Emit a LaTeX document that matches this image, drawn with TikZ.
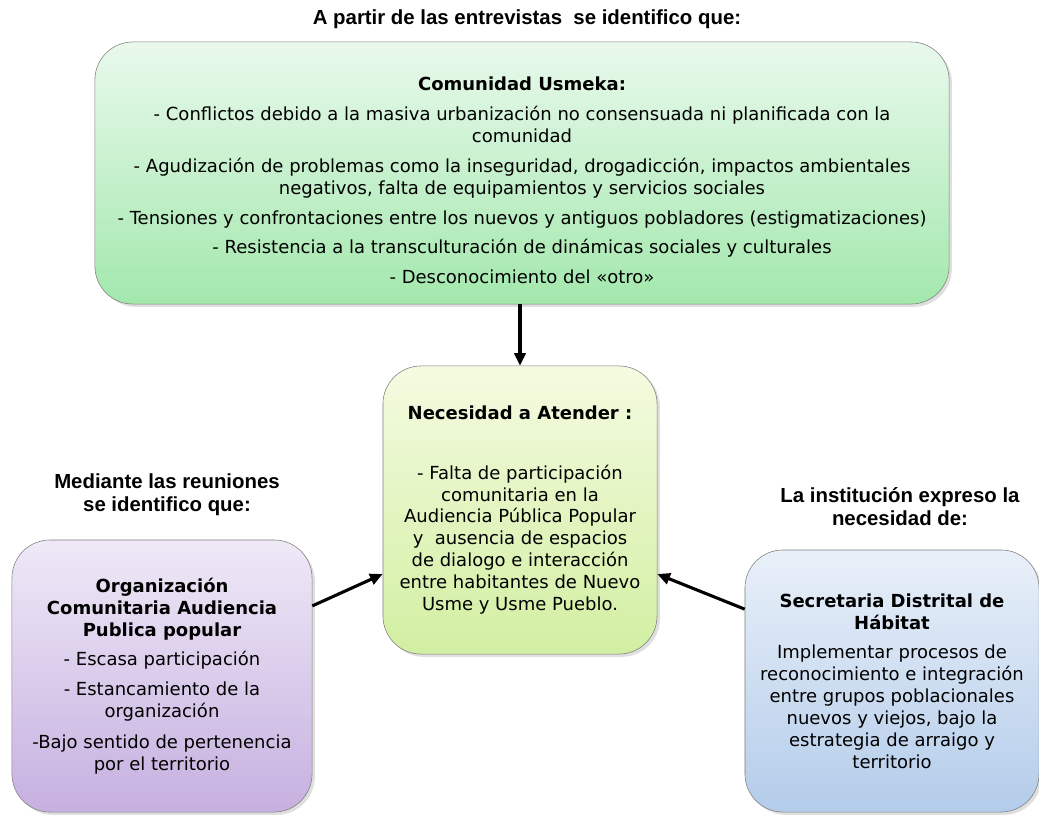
\documentclass[tikz,border=0pt]{standalone}
\usepackage{fontspec}
\setmainfont{DejaVu Sans}
\newfontfamily\headfont{Liberation Sans}
\usetikzlibrary{arrows.meta,shadows}
\definecolor{verdeA}{HTML}{E9F9EC}
\definecolor{verdeB}{HTML}{A3E8AD}
\definecolor{limaA}{HTML}{F4FBE0}
\definecolor{limaB}{HTML}{D2EFA2}
\definecolor{lilaA}{HTML}{EFE9F7}
\definecolor{lilaB}{HTML}{C6B0E0}
\definecolor{azulA}{HTML}{E9F0F9}
\definecolor{azulB}{HTML}{B3CCEA}
\definecolor{borde}{HTML}{7F7F7F}

\tikzset{
  caja/.style={draw=borde, thin, rounded corners=0.95cm, align=center,
    font=\fontsize{12.8}{15.6}\selectfont,
    drop shadow={opacity=0.25, shadow xshift=2pt, shadow yshift=-2pt}},
  titulo/.style={align=center, font=\headfont\bfseries\fontsize{14.5}{16.4}\selectfont},
  flecha/.style={line width=2.2pt, -{Triangle[length=9pt,width=8pt]}}
}

\begin{document}
\begin{tikzpicture}[x=0.025cm,y=-0.025cm]
\useasboundingbox (0,0) rectangle (1039,815);
%\draw[step=50,lightgray,very thin] (0,0) grid (1039,815);

% encabezados
\node[titulo] (tit) at (527,19) {A partir de las entrevistas\ \ se identifico que:};
\node[titulo] (titizq) at (167,495) {Mediante las reuniones\\se identifico que:};
\node[titulo] (titder) at (900,507) {La institución expreso la\\necesidad de:};

% cajas
\node[caja, top color=verdeA, bottom color=verdeB,
      minimum width=21.35cm, minimum height=6.55cm] (usme) at (522,173)
  {\rule{0pt}{20pt}\textbf{Comunidad Usmeka:}\\[6pt]
   - Conflictos debido a la masiva urbanización no consensuada ni planificada con la\\
   comunidad\\[5.5pt]
   - Agudización de problemas como la inseguridad, drogadicción, impactos ambientales\\
   negativos, falta de equipamientos y servicios sociales\\[5.5pt]
   - Tensiones y confrontaciones entre los nuevos y antiguos pobladores (estigmatizaciones)\\[5.5pt]
   - Resistencia a la transculturación de dinámicas sociales y culturales\\[5.5pt]
   - Desconocimiento del «otro»};

\node[caja, top color=limaA, bottom color=limaB,
      minimum width=6.85cm, minimum height=7.2cm] (nec) at (520,510)
  {\textbf{Necesidad a Atender :}\\[27pt]
   - Falta de participación\\
   comunitaria en la\\
   Audiencia Pública Popular\\
   y\ \ ausencia de espacios\\
   de dialogo e interacción\\
   entre habitantes de Nuevo\\
   Usme y Usme Pueblo.};

\node[caja, top color=lilaA, bottom color=lilaB,
      minimum width=7.5cm, minimum height=6.8cm] (org) at (162,676)
  {\textbf{Organización}\\
   \textbf{Comunitaria Audiencia}\\
   \textbf{Publica popular}\\[5pt]
   - Escasa participación\\[6pt]
   - Estancamiento de la\\
   organización\\[6pt]
   -Bajo sentido de pertenencia\\
   por el territorio};

\node[caja, top color=azulA, bottom color=azulB,
      minimum width=7.35cm, minimum height=6.55cm] (sdh) at (892,681)
  {\textbf{Secretaria Distrital de}\\
   \textbf{Hábitat}\\[5pt]
   Implementar procesos de\\
   reconocimiento e integración\\
   entre grupos poblacionales\\
   nuevos y viejos, bajo la\\
   estrategia de arraigo y\\
   territorio};

% flechas
\draw[flecha] (usme.south -| nec.north) -- (nec.north);
\draw[flecha] (org.25) -- (nec.205);
\draw[flecha] (sdh.154) -- (nec.-25);
\end{tikzpicture}
\end{document}
